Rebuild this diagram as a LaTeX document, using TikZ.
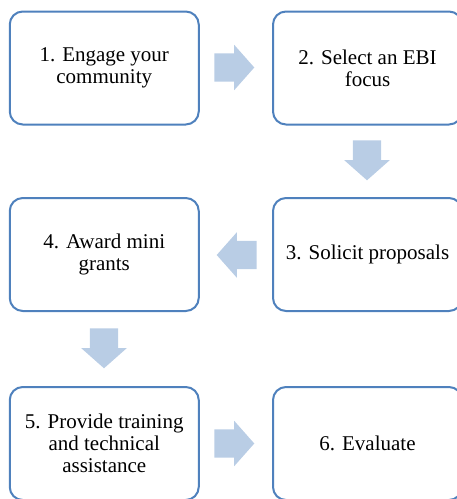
\documentclass[tikz,border=0pt]{standalone}
\usepackage{fontspec}
\setmainfont{Liberation Serif}
\usetikzlibrary{shapes.arrows}

\definecolor{boxblue}{RGB}{79,129,189}
\definecolor{arrowblue}{RGB}{185,205,229}

\tikzset{
  stagebox/.style={draw=boxblue, line width=2pt, rounded corners=13pt,
    fill=white, minimum width=189pt, minimum height=113pt,
    align=center, inner sep=0pt,
    font=\fontsize{21}{22}\selectfont},
  flowarrow/.style={single arrow, fill=arrowblue, draw=none,
    minimum height=40pt, minimum width=45pt, inner xsep=0pt, inner ysep=14pt,
    single arrow head extend=8.5pt, single arrow tip angle=97}
}

\begin{document}
\begin{tikzpicture}[x=1pt,y=-1pt]
\useasboundingbox (0,0) rectangle (457,499);

\node (engage) at (104.25,68) [stagebox] {1. Engage your\\community};
\node (select) at (367.5,68) [stagebox] {2. Select an EBI\\focus};
\node (solicit) at (367.5,254.5) [stagebox] {3. Solicit proposals};
\node (award) at (104.25,254.5) [stagebox] {4. Award mini\\grants};
\node (provide) at (104.25,443.5) [stagebox] {5. Provide training\\and technical\\assistance};
\node (evaluate) at (367.5,443.5) [stagebox] {6. Evaluate};

\node (arrow12) at (228,67.5) [flowarrow] {};
\node (arrow23) at (367,154) [flowarrow, rotate=-90] {};
\node (arrow34) at (243,255) [flowarrow, rotate=180] {};
\node (arrow45) at (104,342) [flowarrow, rotate=-90] {};
\node (arrow56) at (228,443.5) [flowarrow] {};
\end{tikzpicture}
\end{document}
